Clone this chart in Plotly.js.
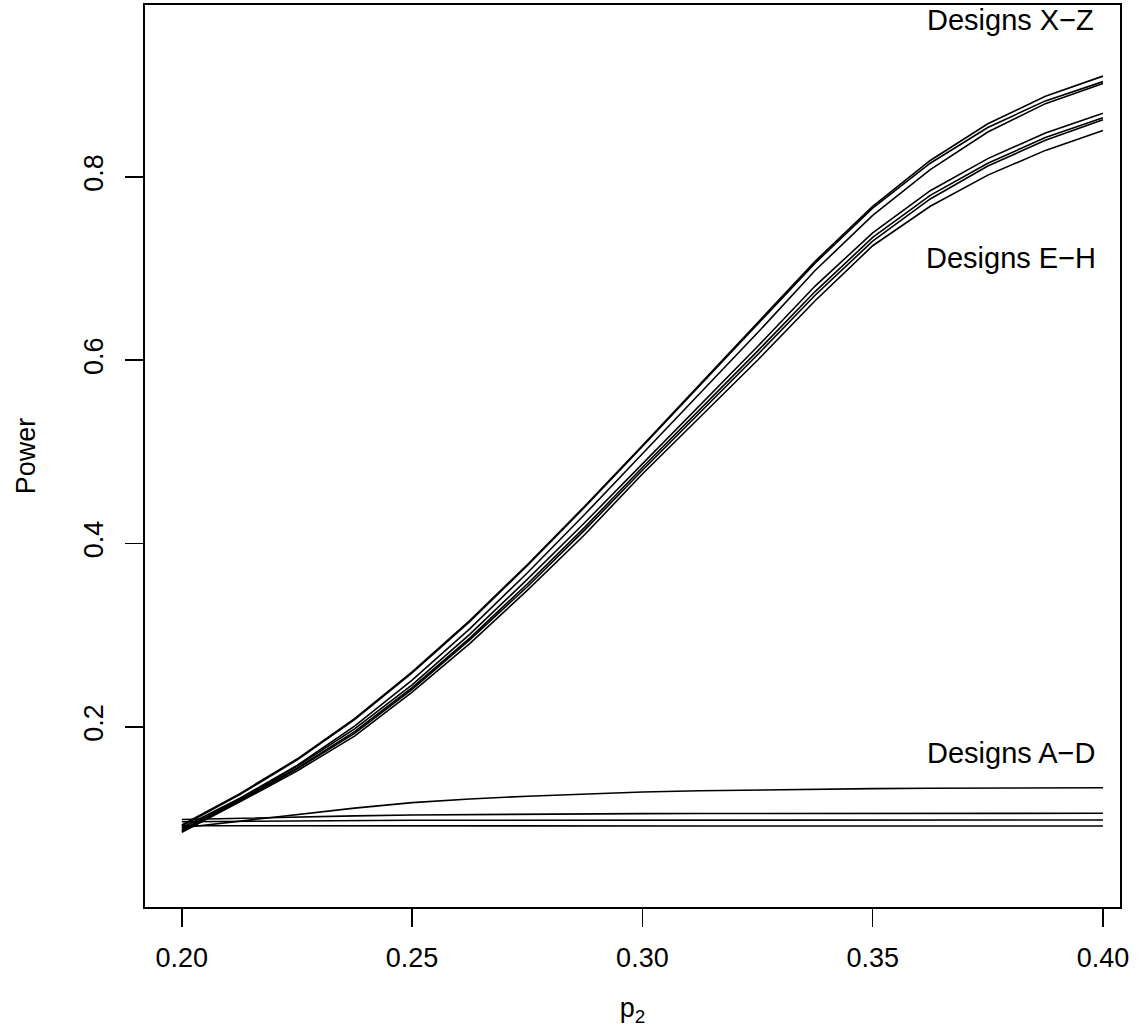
<!DOCTYPE html>
<html>
<head>
<meta charset="utf-8">
<script src="https://cdn.plot.ly/plotly-3.0.1.min.js"></script>
<style>html,body{margin:0;padding:0;background:#fff;}#plot{width:1142px;height:1036px;}</style>
</head>
<body>
<div id="plot"></div>
<script>
var p2 = [0.2, 0.2125, 0.225, 0.2375, 0.25, 0.2625, 0.275, 0.2875, 0.3, 0.3125, 0.325, 0.3375, 0.35, 0.3625, 0.375, 0.3875, 0.4];

var designX = [0.093, 0.127, 0.165, 0.209, 0.260, 0.316, 0.377, 0.441, 0.507, 0.574, 0.640, 0.708, 0.768, 0.818, 0.858, 0.888, 0.910];
var designY = [0.092, 0.126, 0.164, 0.208, 0.259, 0.315, 0.376, 0.440, 0.506, 0.573, 0.639, 0.706, 0.766, 0.815, 0.854, 0.883, 0.904];
var designZ = [0.090, 0.122, 0.158, 0.201, 0.251, 0.307, 0.368, 0.432, 0.498, 0.564, 0.630, 0.698, 0.758, 0.808, 0.849, 0.880, 0.902];

var designE = [0.088, 0.121, 0.157, 0.198, 0.246, 0.301, 0.361, 0.423, 0.487, 0.551, 0.615, 0.681, 0.739, 0.785, 0.820, 0.848, 0.8695];
var designF = [0.087, 0.120, 0.155, 0.195, 0.243, 0.297, 0.356, 0.418, 0.483, 0.546, 0.610, 0.675, 0.734, 0.780, 0.815, 0.843, 0.8645];
var designG = [0.086, 0.119, 0.154, 0.193, 0.241, 0.295, 0.353, 0.415, 0.480, 0.543, 0.606, 0.671, 0.730, 0.776, 0.812, 0.840, 0.8623];
var designH = [0.085, 0.118, 0.152, 0.190, 0.238, 0.291, 0.349, 0.410, 0.476, 0.538, 0.600, 0.665, 0.725, 0.768, 0.802, 0.829, 0.8507];

var designA = [0.090, 0.097, 0.104, 0.1115, 0.1175, 0.1215, 0.1245, 0.127, 0.129, 0.1305, 0.1315, 0.1322, 0.1327, 0.1331, 0.1334, 0.1336, 0.1337];
var designB = [0.099, 0.1005, 0.102, 0.103, 0.104, 0.1045, 0.105, 0.1053, 0.1055, 0.1056, 0.1057, 0.1058, 0.1058, 0.1058, 0.1058, 0.1058, 0.1058];
var designC = [0.0966, 0.0972, 0.0977, 0.098, 0.0982, 0.0983, 0.0984, 0.0985, 0.0985, 0.0985, 0.0985, 0.0985, 0.0985, 0.0985, 0.0985, 0.0985, 0.0985];
var designD = [0.0922, 0.0921, 0.092, 0.092, 0.092, 0.092, 0.092, 0.092, 0.092, 0.092, 0.092, 0.092, 0.092, 0.092, 0.092, 0.092, 0.092];

var xTicks = [0.20, 0.25, 0.30, 0.35, 0.40];
var xTickLabels = ["0.20", "0.25", "0.30", "0.35", "0.40"];
var yTicks = [0.2, 0.4, 0.6, 0.8];
var yTickLabels = ["0.2", "0.4", "0.6", "0.8"];

var groupLabels = ["Designs X\u2212Z", "Designs E\u2212H", "Designs A\u2212D"];
var groupLabelX = [0.38, 0.38, 0.38];
var groupLabelY = [0.971, 0.712, 0.172];

var series = [designX, designY, designZ, designE, designF, designG, designH, designA, designB, designC, designD];
var names = ["X", "Y", "Z", "E", "F", "G", "H", "A", "B", "C", "D"];

var FONT = "Liberation Sans, Arial, Helvetica, sans-serif";

var traces = series.map(function (s, i) {
  return {
    x: p2, y: s, type: "scatter", mode: "lines", name: names[i],
    line: {color: "#000", width: 1.6},
    hoverinfo: "skip"
  };
});

var annotations = groupLabels.map(function (t, i) {
  return {
    x: groupLabelX[i], y: groupLabelY[i], xref: "x", yref: "y",
    text: t, showarrow: false, xanchor: "center", yanchor: "middle",
    font: {family: FONT, size: 29, color: "#000"}
  };
});

var layout = {
  width: 1142, height: 1036,
  margin: {l: 145, r: 22, t: 5, b: 129, pad: 0},
  paper_bgcolor: "#fff", plot_bgcolor: "#fff",
  showlegend: false,
  font: {family: FONT, size: 27, color: "#000"},
  xaxis: {
    range: [0.192, 0.4037], showgrid: false, zeroline: false,
    showline: true, mirror: true, linecolor: "#000", linewidth: 1.6,
    ticks: "outside", ticklen: 18, tickwidth: 1.6, tickcolor: "#000",
    tickmode: "array", tickvals: xTicks, ticktext: xTickLabels,
    tickfont: {family: FONT, size: 27, color: "#000"},
    ticklabelstandoff: 8,
    title: {text: "p<sub>2</sub>", font: {family: FONT, size: 27, color: "#000"}, standoff: 26}
  },
  yaxis: {
    range: [0.0036, 0.9876], showgrid: false, zeroline: false,
    showline: true, mirror: true, linecolor: "#000", linewidth: 1.6,
    ticks: "outside", ticklen: 18, tickwidth: 1.6, tickcolor: "#000",
    tickmode: "array", tickvals: yTicks, ticktext: yTickLabels,
    tickangle: -90,
    tickfont: {family: FONT, size: 27, color: "#000"},
    ticklabelstandoff: 12,
    title: {text: "Power", font: {family: FONT, size: 27, color: "#000"}, standoff: 35}
  },
  annotations: annotations
};

Plotly.newPlot("plot", traces, layout, {displayModeBar: false, staticPlot: true});
</script>
</body>
</html>
